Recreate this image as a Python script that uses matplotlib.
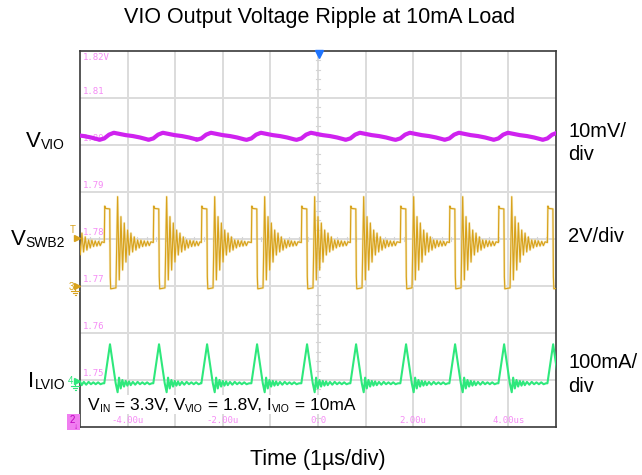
import numpy as np
import matplotlib
matplotlib.use("Agg")
import matplotlib.pyplot as plt
from matplotlib.transforms import IdentityTransform
from matplotlib.patches import Rectangle
from matplotlib.lines import Line2D

plt.rcParams['font.family'] = ['Liberation Sans', 'DejaVu Sans']

# ---------------- data ----------------
title = "VIO Output Voltage Ripple at 10mA Load"
xlabel = "Time (1µs/div)"
x_tick_us = [-4, -2, 0, 2, 4]
x_tick_labels = ["-4.00u", "-2.00u", "0.0", "2.00u", "4.00us"]
y_tick_volts = [1.82, 1.81, 1.80, 1.79, 1.78, 1.77, 1.76, 1.75]
y_tick_labels = ["1.82V", "1.81", "1.80", "1.79", "1.78", "1.77", "1.76", "1.75"]

# switching events (start of high-side pulse), µs
pulse_starts_us = [-5.52, -4.49, -3.46, -2.45, -1.40, -0.35, 0.68, 1.73, 2.76, 3.79, 4.82]

# one switching cycle of the switch node VSWB2 (time after pulse start, volts)
sw_dt_us = [0.00, 0.01, 0.03, 0.115, 0.125, 0.135, 0.245, 0.28, 0.315, 0.35,
            0.385, 0.42, 0.455, 0.49, 0.525, 0.56, 0.595, 0.63, 0.665, 0.70,
            0.735, 0.77, 0.805, 0.84, 0.875, 0.91, 0.945, 0.98]
sw_volts = [1.85, 3.40, 3.30, 3.28, 0.40, -0.12, -0.08, 3.80, 0.26, 2.95,
            0.68, 2.68, 1.02, 2.38, 1.32, 2.25, 1.45, 2.09, 1.53, 1.96,
            1.62, 1.95, 1.68, 1.92, 1.70, 1.90, 1.72, 1.88]

# one cycle of the inductor current ILVIO (A)
il_dt_us = [0.00, 0.12, 0.24, 0.28, 0.31, 0.345, 0.38, 0.415, 0.45, 0.485,
            0.52, 0.555, 0.60, 0.65, 0.70, 0.75, 0.80, 0.85, 0.90, 0.95, 1.00]
il_amps = [0.0, 0.083, 0.0, -0.019, 0.012, -0.011, 0.007, -0.007, 0.005, -0.005,
           0.004, -0.004, 0.003, -0.003, 0.003, -0.002, 0.002, -0.002, 0.002, -0.002, 0.0]

# one cycle of the output voltage VVIO (V)
vio_dt_us = [-0.10, 0.00, 0.10, 0.20, 0.30, 0.45, 0.60, 0.75, 0.90]
vio_volts = [1.8011, 1.8014, 1.8022, 1.8026, 1.8024, 1.8021, 1.8019, 1.8016, 1.8012]

# channel scales (screen divisions)
vio_v_per_div, vio_bottom = 0.01, 1.74
sw_v_per_div, sw_zero_div = 2.0, 3.0
il_a_per_div, il_zero_div = 0.1, 0.93

# ---------------- figure ----------------
W, H = 642, 475
fig = plt.figure(figsize=(W / 100, H / 100), dpi=100)
L, R, T, B = 80, 556, 51, 427
ax = fig.add_axes([L / W, 1 - B / H, (R - L) / W, (B - T) / H])
ax.set_xlim(-5, 5)
ax.set_ylim(0, 8)
ax.set_xticks([])
ax.set_yticks([])
for s in ax.spines.values():
    s.set_color('#3a3a3a')
    s.set_linewidth(1.2)

grid_c = '#dcdcdc'
for gx in range(-4, 5):
    ax.axvline(gx, color=grid_c, lw=1.4, zorder=0)
for gy in range(1, 8):
    ax.axhline(gy, color=grid_c, lw=1.4, zorder=0)
# minor ticks on center crosshair
for k in range(-25, 26):
    if k % 5:
        ax.plot([k * 0.2, k * 0.2], [3.95, 4.05], color='#d4d4d4', lw=0.8, zorder=0)
for k in range(1, 40):
    if k % 5:
        ax.plot([-0.05, 0.05], [k * 0.2, k * 0.2], color='#d4d4d4', lw=0.8, zorder=0)


def build(dts, vals):
    t, y = [], []
    for t0 in pulse_starts_us:
        for d, v in zip(dts, vals):
            t.append(t0 + d)
            y.append(v)
    return np.array(t), np.array(y)


t_sw, v_sw = build(sw_dt_us, sw_volts)
t_il, a_il = build(il_dt_us, il_amps)
t_vio, v_vio = build(vio_dt_us, vio_volts)

gold = '#d8a21c'
ax.plot(t_sw, sw_zero_div + v_sw / sw_v_per_div, color='#f3e1a6', lw=1.8, alpha=0.6, zorder=2)
ax.plot(t_sw, sw_zero_div + v_sw / sw_v_per_div, color=gold, lw=0.85, zorder=3)
ax.plot(t_il, il_zero_div + a_il / il_a_per_div, color='#2ee87c', lw=1.5, zorder=3)
ax.plot(t_vio, (v_vio - vio_bottom) / vio_v_per_div, color='#cf22ef', lw=3.0, zorder=3)

pink = '#f58cf5'
for v, lab in zip(y_tick_volts, y_tick_labels):
    d = (v - vio_bottom) / vio_v_per_div
    if d >= 8:
        ax.text(-4.94, 7.95, lab, color=pink, fontsize=6.5, family='DejaVu Sans Mono',
                ha='left', va='top', zorder=1)
    else:
        ax.text(-4.94, d + 0.05, lab, color=pink, fontsize=6.5, family='DejaVu Sans Mono',
                ha='left', va='bottom', zorder=1)
for x, lab in zip(x_tick_us, x_tick_labels):
    ax.text(x, 0.05, lab, color=pink, fontsize=6.5, family='DejaVu Sans Mono',
            ha='center', va='bottom', zorder=1)

ID = IdentityTransform()


def P(x, y):
    return x, H - y


renderer = fig.canvas.get_renderer()


def rich(x, y, parts, ha='left'):
    """parts: (text, size, drop_px)"""
    objs = []
    widths = []
    for s, size, drop in parts:
        t = fig.text(0, 0, s, fontsize=size, transform=ID, ha='left', va='baseline', zorder=6)
        w = t.get_window_extent(renderer).width
        objs.append((t, drop))
        widths.append(w)
    total = sum(widths)
    x0 = x - total if ha == 'right' else x
    for (t, drop), w in zip(objs, widths):
        t.set_position(P(x0, y + drop))
        x0 += w


# title and axis label
fig.text(*P(320, 18), title, fontsize=15.5, ha='center', va='center', transform=ID)
fig.text(*P(318, 459), xlabel, fontsize=15.5, ha='center', va='center', transform=ID)

# left channel names
rich(65, 147, [("V", 16, 0), ("VIO", 10, 2)], ha='right')
rich(65, 245, [("V", 16, 0), ("SWB2", 10, 2)], ha='right')
rich(65, 387, [("I", 16, 0), ("LVIO", 10, 2)], ha='right')

# right scale labels
for txt, yb in [("10mV/", 137), ("div", 160), ("2V/div", 242), ("100mA/", 368), ("div", 392)]:
    fig.text(*P(568, yb), txt, fontsize=14.5, ha='left', va='baseline', transform=ID)

# condition text with white background
fig.add_artist(Rectangle(P(81, 414), 282, 19, transform=ID, facecolor='white',
                         edgecolor='none', zorder=5))
rich(88, 410, [("V", 12.5, 0), ("IN", 7.5, 2), (" = 3.3V, V", 12.5, 0), ("VIO", 7.5, 2),
               (" = 1.8V, I", 12.5, 0), ("VIO", 7.5, 2), (" = 10mA", 12.5, 0)])

# scope channel markers
fig.text(*P(73, 233), "T", color=gold, fontsize=7, ha='center', va='baseline', transform=ID)
fig.add_artist(Line2D(*zip(P(77, 238)), marker='>', ms=5, color=gold, transform=ID))
fig.text(*P(71, 290), "3", color=gold, fontsize=7, ha='center', va='baseline', transform=ID)
fig.add_artist(Line2D(*zip(P(77, 286)), marker='>', ms=5, color=gold, transform=ID))
for (x1, x2, yy) in [(71, 79, 291), (73, 77, 293), (74.5, 75.5, 295)]:
    fig.add_artist(Line2D([x1, x2], [H - yy, H - yy], color=gold, lw=0.8, transform=ID))
fig.add_artist(Line2D([75, 75], [H - 286, H - 291], color=gold, lw=0.8, transform=ID))

green = '#2ee87c'
fig.text(*P(71, 384), "4", color=green, fontsize=7, ha='center', va='baseline', transform=ID)
fig.add_artist(Line2D(*zip(P(77, 381)), marker='>', ms=5, color=green, transform=ID))
for (x1, x2, yy) in [(71, 79, 386), (73, 77, 388), (74.5, 75.5, 390)]:
    fig.add_artist(Line2D([x1, x2], [H - yy, H - yy], color=green, lw=0.8, transform=ID))
fig.add_artist(Line2D([75, 75], [H - 381, H - 386], color=green, lw=0.8, transform=ID))

fig.add_artist(Rectangle(P(67, 430), 13, 16, transform=ID, facecolor='#f07ef0',
                         edgecolor='none', zorder=5))
fig.text(*P(72, 423), "2", color='#c000c0', fontsize=7, ha='center', va='baseline',
         transform=ID, zorder=6)
fig.text(*P(76, 429), "↓", color='#c000c0', fontsize=6, ha='center', va='baseline',
         transform=ID, zorder=6)

fig.add_artist(Line2D(*zip(P(319, 54)), marker='v', ms=6, color='#1e74ff', transform=ID))

fig.savefig("out.png", dpi=100)
